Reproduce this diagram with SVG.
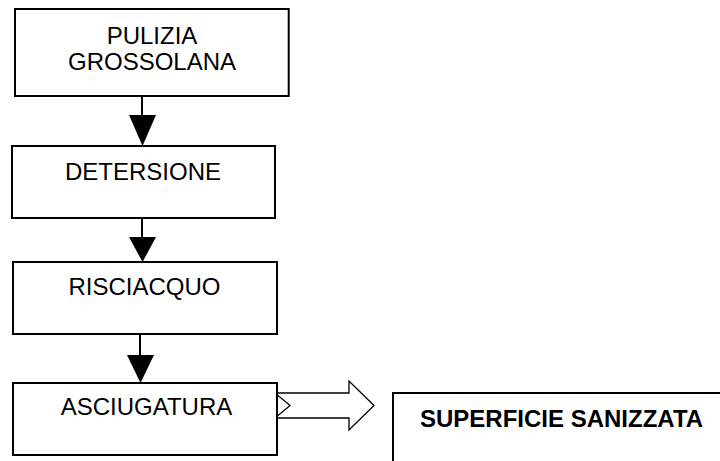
<svg xmlns="http://www.w3.org/2000/svg" width="720" height="461" viewBox="0 0 720 461">
<style>
.box{fill:#fff;stroke:#000;stroke-width:2}
.t{font-family:"Liberation Sans",Arial,sans-serif;font-size:24px;fill:#000;text-anchor:middle}
.b{font-weight:bold;text-anchor:start}
.ln{stroke:#000;stroke-width:2;fill:none}
.hd{fill:#000}
</style>
<rect width="720" height="461" fill="#fff"/>
<g id="connectors">
<line class="ln" x1="142" y1="97" x2="142" y2="118"/>
<polygon class="hd" points="129,115 156,115 142.5,146"/>
<line class="ln" x1="142" y1="219" x2="142" y2="240"/>
<polygon class="hd" points="129,237 156,237 142.5,262"/>
<line class="ln" x1="140" y1="335" x2="140" y2="358"/>
<polygon class="hd" points="127,355 154,355 140.5,383"/>
<polygon fill="#fff" stroke="#000" stroke-width="1.3" points="275,393 349,393 349,381 374,405.5 349,430 349,418 275,418 290,405.5"/>
</g>
<g id="n1">
<rect class="box" x="15" y="9" width="273.7" height="87"/>
<text class="t" x="152" y="43.5">PULIZIA</text>
<text class="t" x="152" y="70">GROSSOLANA</text>
</g>
<g id="n2">
<rect class="box" x="12" y="146" width="263" height="72"/>
<text class="t" x="143" y="180">DETERSIONE</text>
</g>
<g id="n3">
<rect class="box" x="13" y="262" width="264" height="72"/>
<text class="t" x="144.5" y="295">RISCIACQUO</text>
</g>
<g id="n4">
<rect class="box" x="13" y="383" width="264" height="72"/>
<text class="t" x="146.5" y="415">ASCIUGATURA</text>
</g>
<g id="n5">
<rect class="box" x="393" y="393" width="340" height="80"/>
<text class="t b" x="420" y="427">SUPERFICIE SANIZZATA</text>
</g>
</svg>
